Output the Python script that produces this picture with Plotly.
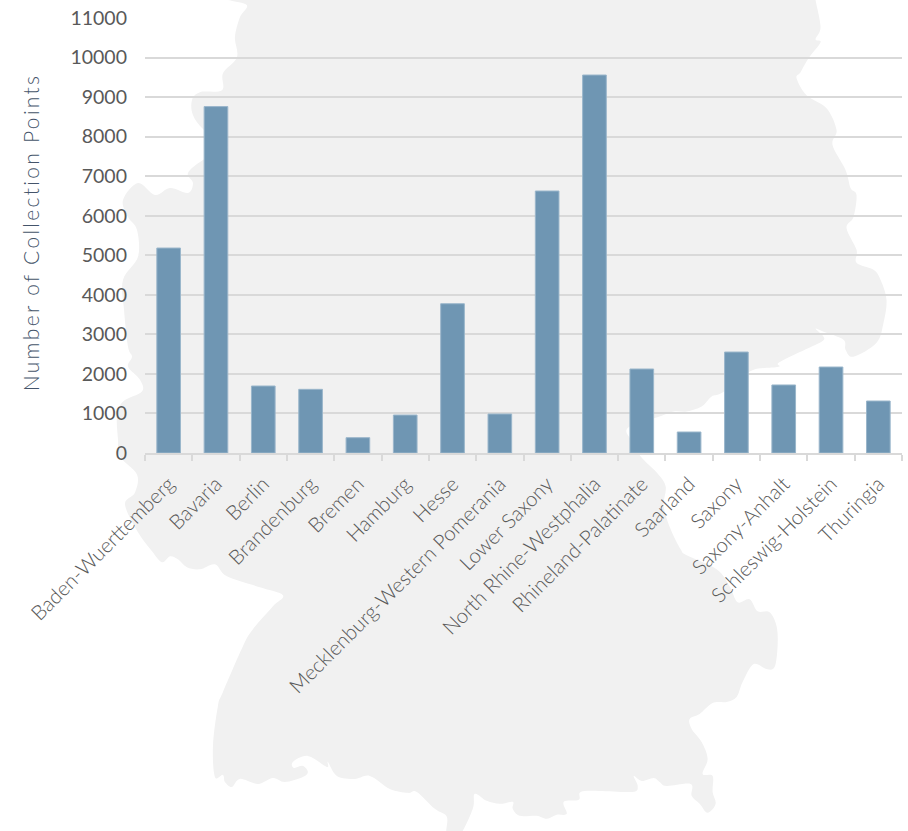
"""Collection points per German state, bars over a pale map outline."""

import plotly.graph_objects as go

states = [
    'Baden-Wuerttemberg', 'Bavaria', 'Berlin', 'Brandenburg', 'Bremen', 'Hamburg',
    'Hesse', 'Mecklenburg-Western Pomerania', 'Lower Saxony', 'North Rhine-Westphalia',
    'Rhineland-Palatinate', 'Saarland', 'Saxony', 'Saxony-Anhalt',
    'Schleswig-Holstein', 'Thuringia',
]
collection_points = [5183, 8760, 1694, 1610, 387, 960, 3775, 986, 6625, 9558,
                     2124, 531, 2553, 1720, 2174, 1315]
y_ticks = list(range(0, 12000, 1000))

WIDTH, HEIGHT = 908, 831
LEFT, RIGHT, TOP, BOTTOM = 145, 902.5, 17.7, 453.5

# background outline, in page pixels, clockwise from the top edge
outline = [
    (230, -4), (230, 0), (247, 5), (240, 17), (235, 37), (237, 57), (223, 73), (222, 90), (200, 92),
    (192, 100), (193, 115), (204, 130), (228, 147), (203, 160), (188, 173), (193, 183),
    (188, 193), (170, 188), (155, 195), (138, 183), (123, 200), (128, 217), (137, 230),
    (138, 257), (123, 280), (124, 310), (128, 347), (132, 357), (128, 367), (140, 380),
    (142, 392), (123, 402), (117, 417), (118, 440), (120, 457), (137, 475), (135, 493),
    (125, 505), (138, 533), (152, 552), (162, 563), (170, 557), (178, 560), (187, 568),
    (200, 570), (215, 565), (227, 577), (260, 588), (283, 596), (273, 607), (253, 630),
    (243, 647), (223, 693), (218, 707), (213, 747), (215, 778), (223, 776), (225, 783),
    (232, 788), (240, 780), (258, 785), (273, 779), (285, 783), (303, 778), (308, 773),
    (303, 767), (294, 769), (293, 763), (308, 757), (327, 768), (328, 763), (337, 777),
    (355, 780), (370, 777), (390, 790), (408, 794), (417, 793), (435, 810), (447, 818),
    (447, 836), (460, 836), (473, 810), (475, 795), (487, 802), (500, 805), (513, 803),
    (513, 810), (520, 817), (537, 817), (547, 820), (557, 816), (567, 815), (564, 803),
    (579, 801), (581, 793), (600, 792), (633, 793), (638, 787), (634, 777), (642, 782),
    (654, 779), (660, 783), (667, 787), (691, 785), (692, 797), (700, 805), (708, 814),
    (716, 805), (713, 793), (713, 777), (703, 775), (708, 760), (702, 743), (692, 730),
    (690, 720), (700, 715), (713, 704), (727, 703), (737, 698), (743, 683), (754, 665),
    (767, 670), (775, 668), (778, 647), (777, 627), (770, 613), (758, 612), (750, 600),
    (738, 603), (730, 587), (717, 570), (687, 556), (681, 550), (671, 530), (664, 507),
    (666, 487), (657, 473), (641, 457), (631, 440), (627, 430), (640, 422), (657, 418),
    (674, 412), (687, 412), (702, 407), (712, 397), (721, 394), (740, 380), (754, 370),
    (779, 367), (779, 363), (801, 352), (822, 342), (824, 337), (816, 329), (824, 332),
    (844, 340), (846, 350), (854, 357), (877, 343), (884, 323), (887, 300), (881, 280),
    (874, 270), (857, 263), (857, 250), (847, 228), (854, 217), (857, 195), (851, 188),
    (846, 170), (833, 145), (837, 130), (827, 108), (807, 95), (797, 78), (801, 72),
    (809, 58), (821, 42), (816, 39), (821, 27), (816, 0), (816, -4),
]


def outline_path(points):
    # smooth the traced points, then map page pixels to paper coordinates
    def paper(p):
        return f'{(p[0] - LEFT) / (RIGHT - LEFT):.5f},{(BOTTOM - p[1]) / (BOTTOM - TOP):.5f}'

    n = len(points)
    d = 'M' + paper(points[0])
    for i in range(n):
        p0, p1, p2, p3 = points[i - 1], points[i], points[(i + 1) % n], points[(i + 2) % n]
        c1 = (p1[0] + (p2[0] - p0[0]) / 6, p1[1] + (p2[1] - p0[1]) / 6)
        c2 = (p2[0] - (p3[0] - p1[0]) / 6, p2[1] - (p3[1] - p1[1]) / 6)
        d += f' C{paper(c1)} {paper(c2)} {paper(p2)}'
    return d + ' Z'


fig = go.Figure()

fig.add_trace(go.Bar(
    x=states,
    y=collection_points,
    width=0.5,
    marker=dict(color='#6f96b3', line=dict(color='#9ab6cb', width=1)),
    hovertemplate='%{x}<br>%{y:,}<extra></extra>'
))

fig.add_shape(type='path', path=outline_path(outline), xref='paper', yref='paper',
              layer='below', fillcolor='#f1f1f1', line=dict(width=0))

fig.update_layout(
    width=WIDTH,
    height=HEIGHT,
    margin=dict(l=LEFT, r=WIDTH - RIGHT, t=TOP, b=HEIGHT - BOTTOM, pad=0),
    paper_bgcolor='white',
    plot_bgcolor='rgba(0,0,0,0)',
    showlegend=False,
    font=dict(family='Lato', color='#595959'),
    xaxis=dict(
        type='category', tickangle=-45, tickson='boundaries', ticks='outside',
        ticklen=6, tickwidth=2, tickcolor='#d9d9d9', showline=True, linewidth=2,
        linecolor='#d9d9d9', showgrid=False, automargin=False, ticklabelstandoff=9,
        tickfont=dict(family='Lato', size=20.5, weight=300, color='#595959'),
    ),
    yaxis=dict(
        range=[0, 11000], tickmode='array', tickvals=y_ticks, ticktext=[str(v) for v in y_ticks],
        gridcolor='#d9d9d9', gridwidth=2, showline=False, zeroline=False, ticks='',
        automargin=False, ticklabelstandoff=17,
        tickfont=dict(family='Lato', size=19.5, color='#595959'),
        title=dict(text='Number of Collection Points', standoff=25,
                   font=dict(family='Lato', size=21, weight=300, color='#44546a')),
    ),
)

# plotly has no letter spacing option, the y title is set wide in the original
post_script = """
document.body.style.margin = '0';
var ytitle = document.querySelector('.ytitle');
ytitle.style.letterSpacing = '2.3px';
ytitle.setAttribute('dx', '3');
"""

fig.write_html("out.html", config=dict(displayModeBar=False), post_script=post_script)
